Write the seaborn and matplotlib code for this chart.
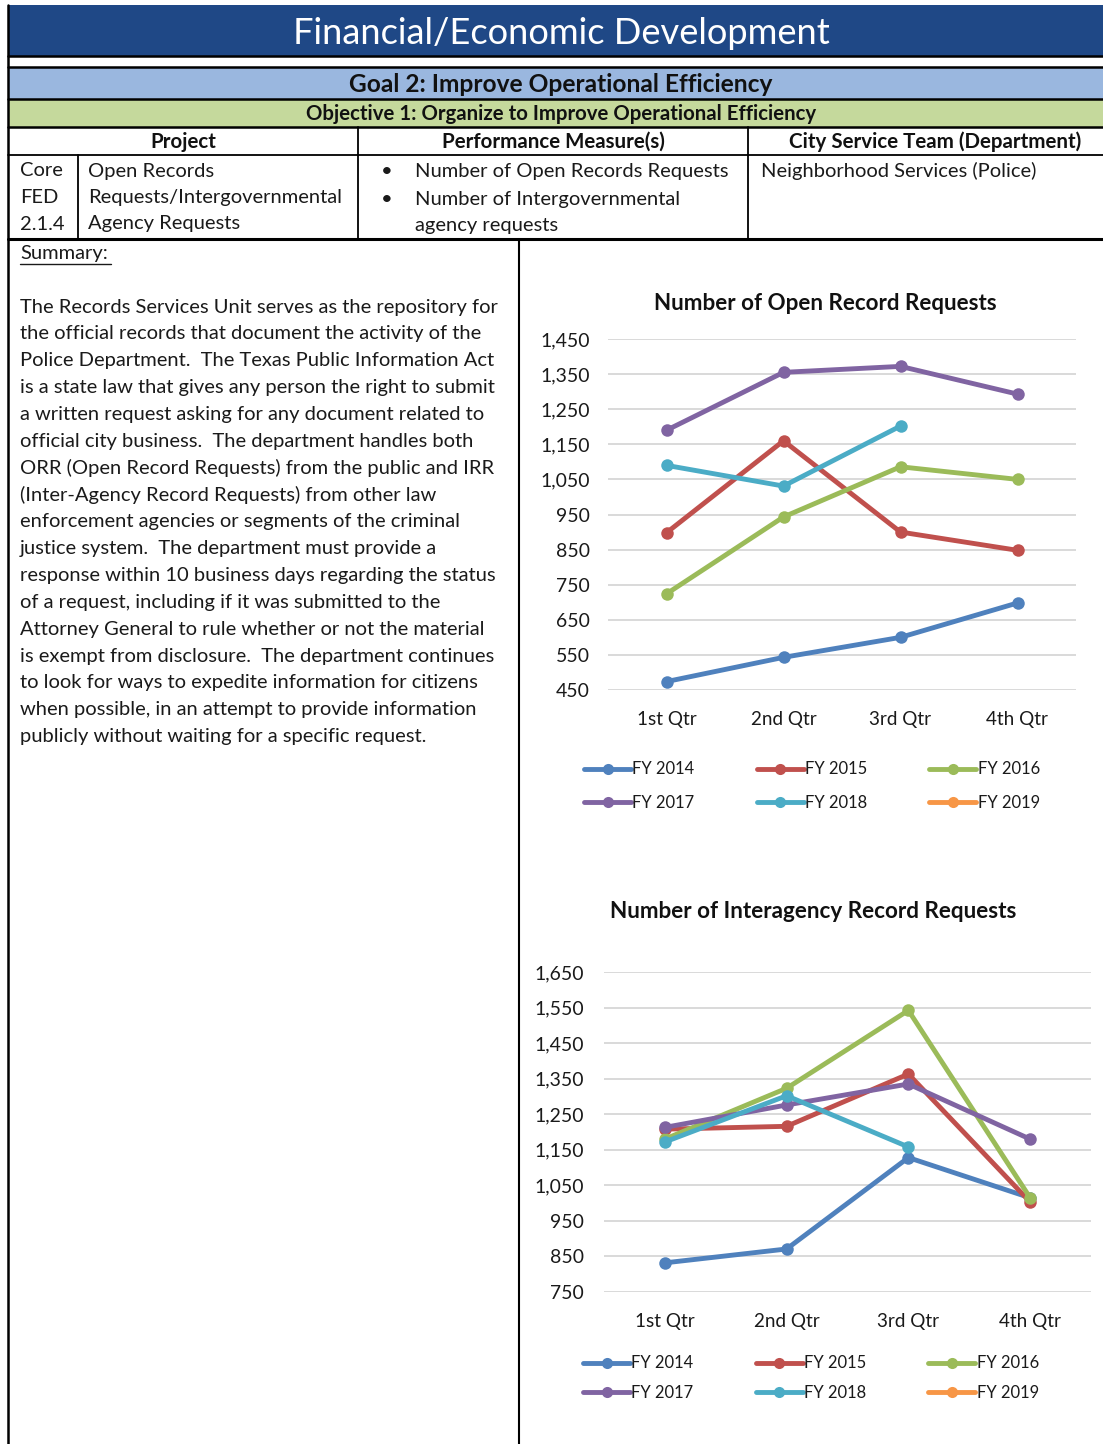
import numpy as np
import pandas as pd
import matplotlib
matplotlib.use("Agg")
import matplotlib.pyplot as plt
import seaborn as sns
from matplotlib.patches import Rectangle
from matplotlib.lines import Line2D
from matplotlib.ticker import FuncFormatter

# ---------------- data ----------------
quarters = ["1st Qtr", "2nd Qtr", "3rd Qtr", "4th Qtr"]
fiscal_years = ["FY 2014", "FY 2015", "FY 2016", "FY 2017", "FY 2018", "FY 2019"]
year_colors = ["#4F81BD", "#C0504D", "#9BBB59", "#8064A2", "#4BACC6", "#F79646"]

# Number of Open Record Requests
open_fy2014 = [474, 543, 600, 698]
open_fy2015 = [898, 1160, 900, 848]
open_fy2016 = [724, 943, 1086, 1050]
open_fy2017 = [1190, 1355, 1372, 1293]
open_fy2018 = [1090, 1031, 1202, np.nan]
open_fy2019 = [np.nan, np.nan, np.nan, np.nan]

# Number of Interagency Record Requests
inter_fy2014 = [832, 871, 1128, 1015]
inter_fy2015 = [1208, 1216, 1363, 1003]
inter_fy2016 = [1180, 1323, 1542, 1015]
inter_fy2017 = [1213, 1276, 1335, 1180]
inter_fy2018 = [1172, 1302, 1158, np.nan]
inter_fy2019 = [np.nan, np.nan, np.nan, np.nan]

open_ticks = list(range(450, 1451, 100))
inter_ticks = list(range(750, 1651, 100))

summary_lines = [
    "The Records Services Unit serves as the repository for",
    "the official records that document the activity of the",
    "Police Department.  The Texas Public Information Act",
    "is a state law that gives any person the right to submit",
    "a written request asking for any document related to",
    "official city business.  The department handles both",
    "ORR (Open Record Requests) from the public and IRR",
    "(Inter-Agency Record Requests) from other law",
    "enforcement agencies or segments of the criminal",
    "justice system.  The department must provide a",
    "response within 10 business days regarding the status",
    "of a request, including if it was submitted to the",
    "Attorney General to rule whether or not the material",
    "is exempt from disclosure.  The department continues",
    "to look for ways to expedite information for citizens",
    "when possible, in an attempt to provide information",
    "publicly without waiting for a specific request.",
]


def long_frame(series):
    rows = []
    for fy, vals in zip(fiscal_years, series):
        for q, v in zip(quarters, vals):
            rows.append({"quarter": q, "year": fy, "requests": v})
    return pd.DataFrame(rows).dropna()


open_df = long_frame([open_fy2014, open_fy2015, open_fy2016,
                      open_fy2017, open_fy2018, open_fy2019])
inter_df = long_frame([inter_fy2014, inter_fy2015, inter_fy2016,
                       inter_fy2017, inter_fy2018, inter_fy2019])

# ---------------- figure / helpers ----------------
sns.set_theme(style="white")
plt.rcParams["font.family"] = ["Lato", "DejaVu Sans"]

W, H = 1103, 1444
fig = plt.figure(figsize=(W / 100, H / 100), dpi=100)
fig.patch.set_facecolor("white")
renderer = fig.canvas.get_renderer()


def fx(x):
    return x / W


def fy(y):
    return 1 - y / H


def band(x0, y0, x1, y1, color):
    fig.add_artist(Rectangle((fx(x0), fy(y1)), (x1 - x0) / W, (y1 - y0) / H,
                             transform=fig.transFigure, facecolor=color,
                             edgecolor="none", zorder=0))


def hline(y, x0, x1, lw=1.5, color="black"):
    fig.add_artist(Line2D([fx(x0), fx(x1)], [fy(y), fy(y)],
                          transform=fig.transFigure, color=color, lw=lw, zorder=3))


def vline(x, y0, y1, lw=1.5, color="black"):
    fig.add_artist(Line2D([fx(x), fx(x)], [fy(y0), fy(y1)],
                          transform=fig.transFigure, color=color, lw=lw, zorder=3))


def fit(s, width, weight="normal"):
    t = fig.text(0, 0, s, fontsize=12, fontweight=weight)
    w = t.get_window_extent(renderer).width
    t.remove()
    return 12 * width / w


def put(x, y, s, size, ha="left", weight="normal", color="#1a1a1a"):
    return fig.text(fx(x), fy(y), s, fontsize=size, ha=ha, va="center",
                    fontweight=weight, color=color, zorder=4)


# ---------------- page header ----------------
band(8, 5, W, 56, "#1F4886")
hline(56, 8, W, lw=1.8)
band(8, 67, W, 99, "#9AB7DF")
hline(67, 8, W, lw=1.8)
hline(99, 8, W, lw=1.8)
band(8, 100, W, 127, "#C5D99C")
hline(127, 8, W, lw=1.8)
hline(155, 8, W, lw=1.3)
hline(239, 8, W, lw=2.2)
vline(8, 5, H, lw=1.8)
vline(78, 155, 239, lw=1.3)
vline(358, 127, 239, lw=1.3)
vline(748, 127, 239, lw=1.3)
vline(519, 239, H, lw=1.5)

put(561, 33, "Financial/Economic Development",
    fit("Financial/Economic Development", 538), ha="center", color="white")
put(561, 84, "Goal 2: Improve Operational Efficiency",
    fit("Goal 2: Improve Operational Efficiency", 422, "bold"),
    ha="center", weight="bold", color="#111111")
put(561, 114, "Objective 1: Organize to Improve Operational Efficiency",
    fit("Objective 1: Organize to Improve Operational Efficiency", 507, "bold"),
    ha="center", weight="bold", color="#111111")

hdr = fit("City Service Team (Department)", 290, "bold")
put(183, 142, "Project", hdr, ha="center", weight="bold", color="#111111")
put(553, 142, "Performance Measure(s)", hdr, ha="center", weight="bold", color="#111111")
put(935, 142, "City Service Team (Department)", hdr, ha="center", weight="bold", color="#111111")

cell = fit("Number of Open Records Requests", 313)
for i, s in enumerate(["Core", "FED", "2.1.4"]):
    put(20, 171 + 26.5 * i, s, cell)
for i, s in enumerate(["Open Records", "Requests/Intergovernmental", "Agency Requests"]):
    put(88, 171 + 26.5 * i, s, cell)
put(381, 172, "\u2022", cell)
put(381, 199, "\u2022", cell)
put(415, 172, "Number of Open Records Requests", cell)
put(415, 199, "Number of Intergovernmental", cell)
put(415, 226, "agency requests", cell)
put(761, 171, "Neighborhood Services (Police)", cell)

# ---------------- summary ----------------
body = fit(summary_lines[0], 478)
put(20, 254, "Summary:", body)
hline(264, 20, 111, lw=1.0, color="#1a1a1a")
for i, s in enumerate(summary_lines):
    put(20, 307 + 26.85 * i, s, body)


# ---------------- charts ----------------
def draw_chart(df, left, right, top, bottom, ylim, yticks, title, title_xy,
               title_w, legend_xy, legend_gap, tick_right, xlabel_y):
    ax = fig.add_axes([fx(left), fy(bottom), (right - left) / W, (bottom - top) / H])
    sns.lineplot(data=df, x="quarter", y="requests", hue="year",
                 hue_order=fiscal_years, palette=dict(zip(fiscal_years, year_colors)),
                 marker="o", markersize=9, markeredgewidth=0, linewidth=3.5,
                 sort=False, errorbar=None, legend=False, ax=ax)
    ax.set_xlim(-0.5, 3.5)
    ax.set_ylim(*ylim)
    ax.set_yticks(yticks)
    ax.yaxis.set_major_formatter(FuncFormatter(lambda v, p: f"{int(v):,}"))
    ax.set_xticks(range(len(quarters)))
    ax.set_xticklabels(quarters)
    ax.set_xlabel("")
    ax.set_ylabel("")
    for sp in ax.spines.values():
        sp.set_visible(False)
    ax.yaxis.grid(True, color="#D9D9D9", lw=1.4)
    ax.set_axisbelow(True)
    tsize = fit("1,450", 49)
    ax.tick_params(axis="y", length=0, pad=(left - tick_right) * 0.72,
                   labelsize=tsize, labelcolor="#1a1a1a")
    ax.tick_params(axis="x", length=0, pad=(xlabel_y - bottom - 8) * 0.72,
                   labelsize=fit("1st Qtr", 59), labelcolor="#1a1a1a")
    put(title_xy[0], title_xy[1], title, fit(title, title_w, "bold"),
        ha="center", weight="bold", color="#111111")

    handles = [Line2D([], [], color=c, lw=3.5, marker="o", markersize=8,
                      markeredgewidth=0) for c in year_colors]
    order = [0, 3, 1, 4, 2, 5]
    lsize = fit("FY 2014", 62)
    leg = fig.legend([handles[i] for i in order], [fiscal_years[i] for i in order],
                     loc="center", bbox_to_anchor=(fx(legend_xy[0]), fy(legend_xy[1])),
                     ncol=3, frameon=False, fontsize=lsize, handlelength=2.85,
                     handletextpad=0.08, columnspacing=3.75, labelspacing=legend_gap,
                     borderpad=0)
    for t in leg.get_texts():
        t.set_color("#1a1a1a")
    return ax


draw_chart(open_df, 608, 1076, 339, 690, (450, 1450), open_ticks,
           "Number of Open Record Requests", (825, 304), 341,
           (812, 786), 1.05, 590, 719)
draw_chart(inter_df, 604, 1091, 972, 1292, (750, 1650), inter_ticks,
           "Number of Interagency Record Requests", (813, 912), 405,
           (811, 1378), 0.8, 584, 1321)

fig.savefig("out.png", dpi=100, facecolor="white")
